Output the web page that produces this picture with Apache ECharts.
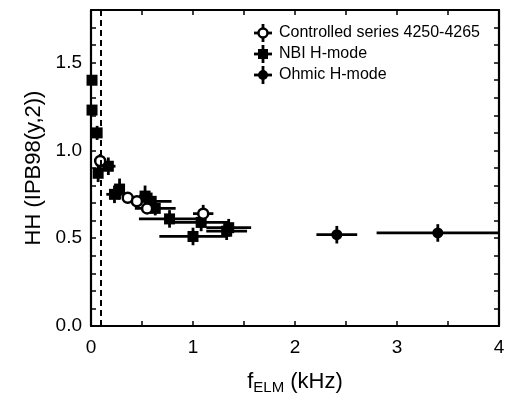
<!DOCTYPE html>
<html>
<head>
<meta charset="utf-8"/>
<title>HH vs fELM</title>
<script type="text/javascript" src="https://cdn.jsdelivr.net/npm/echarts@6/dist/echarts.min.js"></script>
<style type="text/css">
	html, body { margin: 0; padding: 0; background: #fff; }
	#chart { width: 509px; height: 400px; }
</style>
</head>
<body>
<div id="chart"></div>
<script type="text/javascript">
	// [fELM (kHz), HH, x error, y error]
	var controlledData = [
		[0.09, 0.94, 0.02, 0.04],
		[0.36, 0.73, 0.03, 0.03],
		[0.45, 0.71, 0.03, 0.03],
		[0.55, 0.67, 0.03, 0.03],
		[1.10, 0.64, 0.10, 0.05]
	];
	var nbiData = [
		[0.01, 1.40, 0.00, 0.00],
		[0.01, 1.23, 0.00, 0.00],
		[0.06, 1.10, 0.03, 0.04],
		[0.07, 0.87, 0.02, 0.05],
		[0.17, 0.91, 0.07, 0.05],
		[0.23, 0.75, 0.08, 0.05],
		[0.28, 0.78, 0.05, 0.06],
		[0.53, 0.74, 0.06, 0.06],
		[0.59, 0.71, 0.20, 0.05],
		[0.63, 0.67, 0.20, 0.04],
		[0.77, 0.61, 0.30, 0.05],
		[1.08, 0.59, 0.28, 0.05],
		[1.00, 0.51, 0.33, 0.05],
		[1.35, 0.56, 0.22, 0.05],
		[1.33, 0.54, 0.20, 0.05]
	];
	var ohmicData = [
		[2.41, 0.52, 0.20, 0.05],
		[3.40, 0.53, 0.60, 0.05]
	];
	var seriesNames = ['Controlled series 4250-4265', 'NBI H-mode', 'Ohmic H-mode'];
	var elmThreshold = 0.1;

	var FONT = '"Liberation Sans", Arial, Helvetica, sans-serif';

	function errorBars(params, api){
		var x = api.value(0), y = api.value(1), dx = api.value(2), dy = api.value(3);
		var l = api.coord([x - dx, y]), r = api.coord([x + dx, y]);
		var b = api.coord([x, y - dy]), t = api.coord([x, y + dy]);
		var st = { stroke: '#000', lineWidth: 2.8 };
		return {
			type: 'group',
			children: [
				{ type: 'line', shape: { x1: l[0], y1: l[1], x2: r[0], y2: r[1] }, style: st },
				{ type: 'line', shape: { x1: b[0], y1: b[1], x2: t[0], y2: t[1] }, style: st }
			]
		};
	}

	function errSeries(data){
		return {
			type: 'custom',
			renderItem: errorBars,
			clip: true,
			silent: true,
			z: 1,
			encode: { x: 0, y: 1 },
			data: data
		};
	}

	var tickStyle = { show: true, inside: true, length: 5, lineStyle: { color: '#000', width: 1.5 } };
	var lineStyle = { show: true, onZero: false, lineStyle: { color: '#000', width: 2.2 } };

	function legendItem(i, y){
		var cx = 263;
		var sym;
		if (i === 0) {
			sym = { type: 'circle', shape: { cx: cx, cy: y, r: 4.5 }, style: { fill: '#fff', stroke: '#000', lineWidth: 2.5 } };
		} else if (i === 1) {
			sym = { type: 'rect', shape: { x: cx - 5, y: y - 5, width: 10, height: 10 }, style: { fill: '#000' } };
		} else {
			sym = { type: 'circle', shape: { cx: cx, cy: y, r: 5 }, style: { fill: '#000' } };
		}
		return [
			{ type: 'line', shape: { x1: cx - 9, y1: y, x2: cx + 9, y2: y }, style: { stroke: '#000', lineWidth: 2.8 } },
			{ type: 'line', shape: { x1: cx, y1: y - 9, x2: cx, y2: y + 9 }, style: { stroke: '#000', lineWidth: 2.8 } },
			sym,
			{ type: 'text', x: 279, y: y, style: { text: seriesNames[i], fill: '#000', font: '16px ' + FONT, textVerticalAlign: 'middle' } }
		];
	}

	var legendChildren = [].concat(legendItem(0, 33), legendItem(1, 54), legendItem(2, 75));

	var option = {
		backgroundColor: '#fff',
		animation: false,
		grid: { left: 91, right: 10, top: 10, bottom: 66 },
		xAxis: [{
			type: 'value',
			min: 0, max: 4, interval: 1,
			name: '{f|f}{s|ELM}{f| (kHz)}',
			nameLocation: 'middle',
			nameGap: 42,
			nameTextStyle: {
				rich: {
					f: { fontSize: 22, fontFamily: FONT, color: '#000' },
					s: { fontSize: 15, fontFamily: FONT, color: '#000', verticalAlign: 'bottom', padding: [12, 0, 0, 0] }
				}
			},
			axisLine: lineStyle,
			axisTick: tickStyle,
			minorTick: { show: true, splitNumber: 2, length: 5, lineStyle: { color: '#000', width: 1.5 } },
			axisLabel: { color: '#000', fontSize: 19, fontFamily: FONT, margin: 12 },
			splitLine: { show: false }
		}, {
			type: 'value',
			position: 'top',
			min: 0, max: 4, interval: 1,
			axisLine: lineStyle,
			axisTick: tickStyle,
			minorTick: { show: true, splitNumber: 2, length: 5, lineStyle: { color: '#000', width: 1.5 } },
			axisLabel: { show: false },
			splitLine: { show: false }
		}],
		yAxis: [{
			type: 'value',
			min: 0, max: 1.8, interval: 0.5,
			name: 'HH (IPB98(y,2))',
			nameLocation: 'middle',
			nameGap: 46,
			nameTextStyle: { color: '#000', fontSize: 22, fontFamily: FONT },
			axisLine: lineStyle,
			axisTick: tickStyle,
			minorTick: { show: true, splitNumber: 5, length: 5, lineStyle: { color: '#000', width: 1.5 } },
			axisLabel: {
				color: '#000', fontSize: 19, fontFamily: FONT, margin: 9, showMaxLabel: false,
				formatter: function(v){ return v.toFixed(1); }
			},
			splitLine: { show: false }
		}, {
			type: 'value',
			position: 'right',
			min: 0, max: 1.8, interval: 0.5,
			axisLine: lineStyle,
			axisTick: tickStyle,
			minorTick: { show: true, splitNumber: 5, length: 5, lineStyle: { color: '#000', width: 1.5 } },
			axisLabel: { show: false },
			splitLine: { show: false }
		}],
		graphic: [{ type: 'group', children: legendChildren }],
		series: [
			errSeries(nbiData),
			errSeries(controlledData),
			errSeries(ohmicData),
			{
				name: seriesNames[1],
				type: 'scatter',
				symbol: 'rect',
				symbolSize: 11,
				z: 3,
				itemStyle: { color: '#000', opacity: 1 },
				data: nbiData.map(function(d){ return [d[0], d[1]]; }),
				markLine: {
					silent: true,
					symbol: 'none',
					label: { show: false },
					lineStyle: { color: '#000', type: [6, 4], width: 2 },
					data: [{ xAxis: elmThreshold }]
				}
			},
			{
				name: seriesNames[0],
				type: 'scatter',
				symbol: 'circle',
				symbolSize: 10,
				z: 4,
				itemStyle: { color: '#fff', borderColor: '#000', borderWidth: 2.5, opacity: 1 },
				data: controlledData.map(function(d){ return [d[0], d[1]]; })
			},
			{
				name: seriesNames[2],
				type: 'scatter',
				symbol: 'circle',
				symbolSize: 11,
				z: 4,
				itemStyle: { color: '#000', opacity: 1 },
				data: ohmicData.map(function(d){ return [d[0], d[1]]; })
			}
		]
	};

	var chart = echarts.init(document.getElementById('chart'), null, { renderer: 'canvas' });
	chart.setOption(option);
</script>
</body>
</html>
